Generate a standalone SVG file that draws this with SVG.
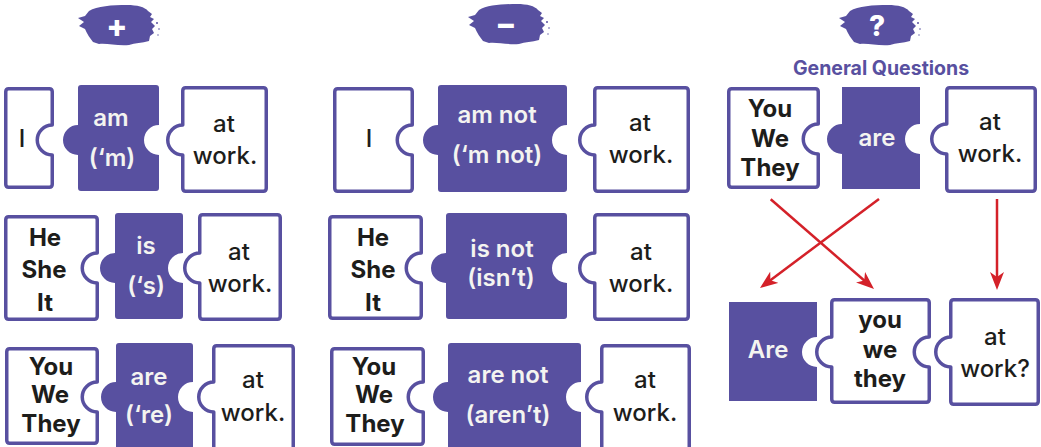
<svg xmlns="http://www.w3.org/2000/svg" width="1041" height="447" viewBox="0 0 1041 447">
<style>
.w{fill:#fff;stroke:#5850a0;stroke-width:3.5;stroke-linejoin:round}
.p{fill:#5850a0}
.t{font-family:Inter,"Liberation Sans",sans-serif;font-size:24px;font-weight:500;fill:#1d1d1b;text-anchor:middle}
.b{font-weight:700}
.pt{font-family:Inter,"Liberation Sans",sans-serif;font-size:24px;font-weight:600;fill:#f4f4f0;text-anchor:middle}
.hd{font-family:Inter,"Liberation Sans",sans-serif;font-weight:800;fill:#fff;text-anchor:middle}
.ar{stroke:#d42129;stroke-width:2.5;fill:none}
</style>
<defs>
<marker id="ah" markerUnits="userSpaceOnUse" markerWidth="18" markerHeight="14" refX="10" refY="7" orient="auto">
<path d="M0,0 L18,7 L0,14 L5,7 Z" fill="#d42129"/>
</marker>
<g id="blob">
<path d="M-28,-15 C-20,-20 -5,-21 10,-21 C20,-21 28,-19 31,-15 L35,-12 L33,-9 L37,-7 L34,-4 L38,0 L35,3 L37,7 L33,10 L32,15 C25,17 18,17 12,19 C0,20 -10,17 -18,18 L-24,16 C-27,12 -30,8 -32,3 L-38,0 L-33,-4 L-39,-8 L-32,-10 Z"/>
<circle cx="40" cy="-3" r="1"/>
<circle cx="42" cy="3" r="0.8"/>
<circle cx="41" cy="9" r="0.7"/>
</g>
</defs>

<g id="header-plus">
<use href="#blob" x="117" y="26" class="p"/>
<text x="117" y="37" class="hd" font-size="31">+</text>
</g>
<g id="header-minus">
<use href="#blob" x="507" y="25" class="p"/>
<text x="506" y="35" class="hd" font-size="31">−</text>
</g>
<g id="header-question">
<use href="#blob" x="878" y="26" class="p"/>
<text x="877" y="36" class="hd" font-size="28">?</text>
<text x="881" y="75" font-family="Inter,'Liberation Sans',sans-serif" font-size="19.5" font-weight="700" fill="#5850a0" text-anchor="middle">General Questions</text>
</g>

<!-- PLUS column -->
<g id="p1a">
<path class="w" d="M8.75,88.75 H49.25 Q52.25,88.75 52.25,91.75 V125 A15,15 0 0 0 52.25,155 V184.25 Q52.25,187.25 49.25,187.25 H8.75 Q5.75,187.25 5.75,184.25 V91.75 Q5.75,88.75 8.75,88.75 Z"/>
<text class="t" x="22" y="147">I</text>
</g>
<g id="p1b">
<path class="p" d="M81,85 H156 Q159,85 159,88 V125 A15,15 0 0 0 159,155 V188 Q159,191 156,191 H81 Q78,191 78,188 V155 A15,15 0 0 1 78,125 V88 Q78,85 81,85 Z"/>
<text class="pt" x="111" y="126">am</text>
<text class="pt" x="112" y="166">(‘m)</text>
</g>
<g id="p1c">
<path class="w" d="M185.75,87.75 H263.25 Q266.25,87.75 266.25,90.75 V188.25 Q266.25,191.25 263.25,191.25 H185.75 Q182.75,191.25 182.75,188.25 V155 A15,15 0 0 1 182.75,125 V90.75 Q182.75,87.75 185.75,87.75 Z"/>
<text class="t" x="224" y="132">at</text>
<text class="t" x="225" y="164">work.</text>
</g>

<g id="p2a">
<path class="w" d="M8.75,216.75 H94.25 Q97.25,216.75 97.25,219.75 V253 A15,15 0 0 0 97.25,283 V316.25 Q97.25,319.25 94.25,319.25 H8.75 Q5.75,319.25 5.75,316.25 V219.75 Q5.75,216.75 8.75,216.75 Z"/>
<text class="t b" x="45" y="246">He</text>
<text class="t b" x="44" y="278">She</text>
<text class="t b" x="45" y="311">It</text>
</g>
<g id="p2b">
<path class="p" d="M118,213 H180 Q183,213 183,216 V253 A15,15 0 0 0 183,283 V316 Q183,319 180,319 H118 Q115,319 115,316 V283 A15,15 0 0 1 115,253 V216 Q115,213 118,213 Z"/>
<text class="pt" x="146" y="254">is</text>
<text class="pt" x="146" y="294">(‘s)</text>
</g>
<g id="p2c">
<path class="w" d="M202.75,214.75 H277.25 Q280.25,214.75 280.25,217.75 V316.25 Q280.25,319.25 277.25,319.25 H202.75 Q199.75,319.25 199.75,316.25 V283 A15,15 0 0 1 199.75,253 V217.75 Q199.75,214.75 202.75,214.75 Z"/>
<text class="t" x="239" y="260">at</text>
<text class="t" x="240" y="292">work.</text>
</g>

<g id="p3a">
<path class="w" d="M9.75,348.75 H94.25 Q97.25,348.75 97.25,351.75 V382 A15,15 0 0 0 97.25,412 V440.25 Q97.25,443.25 94.25,443.25 H9.75 Q6.75,443.25 6.75,440.25 V351.75 Q6.75,348.75 9.75,348.75 Z"/>
<text class="t b" x="51" y="375">You</text>
<text class="t b" x="50" y="403">We</text>
<text class="t b" x="51" y="432">They</text>
</g>
<g id="p3b">
<path class="p" d="M119,343 H190 Q193,343 193,346 V382 A15,15 0 0 0 193,412 V450 H116 V412 A15,15 0 0 1 116,382 V346 Q116,343 119,343 Z"/>
<text class="pt" x="149" y="385">are</text>
<text class="pt" x="149" y="423">(‘re)</text>
</g>
<g id="p3c">
<path class="w" d="M216.75,345.75 H290.25 Q293.25,345.75 293.25,348.75 V452 H213.75 V412 A15,15 0 0 1 213.75,382 V348.75 Q213.75,345.75 216.75,345.75 Z"/>
<text class="t" x="253" y="388">at</text>
<text class="t" x="253" y="421">work.</text>
</g>

<!-- MINUS column -->
<g id="m1a">
<path class="w" d="M337.75,88.75 H409.25 Q412.25,88.75 412.25,91.75 V125 A15,15 0 0 0 412.25,155 V188.25 Q412.25,191.25 409.25,191.25 H337.75 Q334.75,191.25 334.75,188.25 V91.75 Q334.75,88.75 337.75,88.75 Z"/>
<text class="t" x="369" y="147">I</text>
</g>
<g id="m1b">
<path class="p" d="M441,85 H564 Q567,85 567,88 V125 A15,15 0 0 0 567,155 V189 Q567,192 564,192 H441 Q438,192 438,189 V155 A15,15 0 0 1 438,125 V88 Q438,85 441,85 Z"/>
<text class="pt" x="497" y="123">am not</text>
<text class="pt" x="497" y="163">(‘m not)</text>
</g>
<g id="m1c">
<path class="w" d="M597.75,87.75 H685.25 Q688.25,87.75 688.25,90.75 V188.25 Q688.25,191.25 685.25,191.25 H597.75 Q594.75,191.25 594.75,188.25 V155 A15,15 0 0 1 594.75,125 V90.75 Q594.75,87.75 597.75,87.75 Z"/>
<text class="t" x="640" y="131">at</text>
<text class="t" x="641" y="163">work.</text>
</g>

<g id="m2a">
<path class="w" d="M332.75,216.75 H418.25 Q421.25,216.75 421.25,219.75 V253 A15,15 0 0 0 421.25,283 V315.25 Q421.25,318.25 418.25,318.25 H332.75 Q329.75,318.25 329.75,315.25 V219.75 Q329.75,216.75 332.75,216.75 Z"/>
<text class="t b" x="373" y="246">He</text>
<text class="t b" x="373" y="278">She</text>
<text class="t b" x="373" y="311">It</text>
</g>
<g id="m2b">
<path class="p" d="M449,213 H564 Q567,213 567,216 V253 A15,15 0 0 0 567,283 V316 Q567,319 564,319 H449 Q446,319 446,316 V283 A15,15 0 0 1 446,253 V216 Q446,213 449,213 Z"/>
<text class="pt" x="502" y="257">is not</text>
<text class="pt" x="501" y="286">(isn’t)</text>
</g>
<g id="m2c">
<path class="w" d="M597.75,214.75 H685.25 Q688.25,214.75 688.25,217.75 V316.25 Q688.25,319.25 685.25,319.25 H597.75 Q594.75,319.25 594.75,316.25 V283 A15,15 0 0 1 594.75,253 V217.75 Q594.75,214.75 597.75,214.75 Z"/>
<text class="t" x="641" y="260">at</text>
<text class="t" x="641" y="292">work.</text>
</g>

<g id="m3a">
<path class="w" d="M334.75,348.75 H420.25 Q423.25,348.75 423.25,351.75 V382 A15,15 0 0 0 423.25,412 V441.25 Q423.25,444.25 420.25,444.25 H334.75 Q331.75,444.25 331.75,441.25 V351.75 Q331.75,348.75 334.75,348.75 Z"/>
<text class="t b" x="374" y="375">You</text>
<text class="t b" x="374" y="403">We</text>
<text class="t b" x="375" y="432">They</text>
</g>
<g id="m3b">
<path class="p" d="M451,343 H578 Q581,343 581,346 V382 A15,15 0 0 0 581,412 V450 H448 V412 A15,15 0 0 1 448,382 V346 Q448,343 451,343 Z"/>
<text class="pt" x="508" y="383">are not</text>
<text class="pt" x="508" y="423">(aren’t)</text>
</g>
<g id="m3c">
<path class="w" d="M604.75,345.75 H686.25 Q689.25,345.75 689.25,348.75 V452 H601.75 V412 A15,15 0 0 1 601.75,382 V348.75 Q601.75,345.75 604.75,345.75 Z"/>
<text class="t" x="645" y="388">at</text>
<text class="t" x="645" y="421">work.</text>
</g>

<!-- QUESTION column -->
<g id="q1a">
<path class="w" d="M731.75,88.75 H815.25 Q818.25,88.75 818.25,91.75 V124 A15,15 0 0 0 818.25,154 V184.25 Q818.25,187.25 815.25,187.25 H731.75 Q728.75,187.25 728.75,184.25 V91.75 Q728.75,88.75 731.75,88.75 Z"/>
<text class="t b" x="770" y="117">You</text>
<text class="t b" x="770" y="147">We</text>
<text class="t b" x="770" y="176">They</text>
</g>
<g id="q1b">
<path class="p" d="M842,87 H920 V124 A15,15 0 0 0 920,154 V189 H842 V154 A15,15 0 0 1 842,124 Z"/>
<text class="pt" x="877" y="146">are</text>
</g>
<g id="q1c">
<path class="w" d="M949.75,87.75 H1032.25 Q1035.25,87.75 1035.25,90.75 V188.25 Q1035.25,191.25 1032.25,191.25 H949.75 Q946.75,191.25 946.75,188.25 V154 A15,15 0 0 1 946.75,124 V90.75 Q946.75,87.75 949.75,87.75 Z"/>
<text class="t" x="990" y="130">at</text>
<text class="t" x="990" y="162">work.</text>
</g>

<g id="q2a">
<path class="p" d="M729,302 H817 V337 A15,15 0 0 0 817,367 V401 H729 Z"/>
<text class="pt" x="768" y="358">Are</text>
</g>
<g id="q2b">
<path class="w" d="M834.75,299.75 H926.25 Q929.25,299.75 929.25,302.75 V337 A15,15 0 0 0 929.25,367 V399.25 Q929.25,402.25 926.25,402.25 H834.75 Q831.75,402.25 831.75,399.25 V367 A15,15 0 0 1 831.75,337 V302.75 Q831.75,299.75 834.75,299.75 Z"/>
<text class="t b" x="880" y="328">you</text>
<text class="t b" x="880" y="358">we</text>
<text class="t b" x="880" y="387">they</text>
</g>
<g id="q2c">
<path class="w" d="M953.75,299.75 H1035.25 Q1038.25,299.75 1038.25,302.75 V401.25 Q1038.25,404.25 1035.25,404.25 H953.75 Q950.75,404.25 950.75,401.25 V367 A15,15 0 0 1 950.75,337 V302.75 Q950.75,299.75 953.75,299.75 Z"/>
<text class="t" x="995" y="345">at</text>
<text class="t" x="995" y="377">work?</text>
</g>

<g id="connectors">
<line class="ar" x1="770.7" y1="199.3" x2="868" y2="283.8" marker-end="url(#ah)"/>
<line class="ar" x1="879" y1="199" x2="766.4" y2="283.2" marker-end="url(#ah)"/>
<line class="ar" x1="997" y1="199" x2="997" y2="282" marker-end="url(#ah)"/>
</g>
</svg>
